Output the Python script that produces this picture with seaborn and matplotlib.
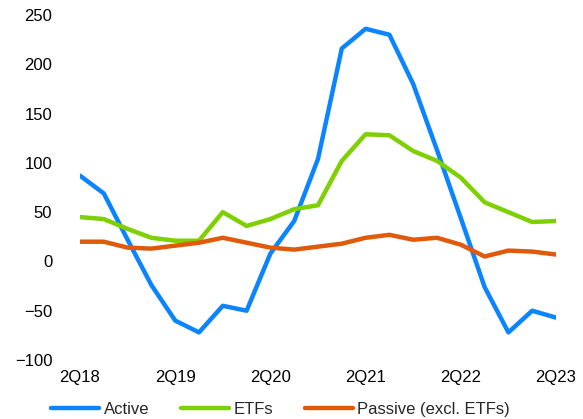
# fund flows by strategy - line chart

import matplotlib
matplotlib.use("Agg")
import matplotlib.pyplot as plt
import seaborn as sns
import pandas as pd

quarters = ["2Q18", "3Q18", "4Q18", "1Q19", "2Q19", "3Q19", "4Q19", "1Q20", "2Q20", "3Q20", "4Q20",
            "1Q21", "2Q21", "3Q21", "4Q21", "1Q22", "2Q22", "3Q22", "4Q22", "1Q23", "2Q23"]
active = [87, 69, 22, -24, -60, -72, -45, -50, 8, 41, 104, 216, 236, 230, 180, 113, 44, -26, -72, -50, -57]
etfs = [45, 43, 33, 24, 21, 21, 50, 36, 43, 53, 57, 102, 129, 128, 112, 102, 85, 60, 50, 40, 41]
passive = [20, 20, 14, 13, 16, 19, 24, 19, 14, 12, 15, 18, 24, 27, 22, 24, 17, 5, 11, 10, 7]

series_names = ["Active", "ETFs", "Passive (excl. ETFs)"]
colors = ["#0A84FF", "#7ED000", "#E05A0A"]
tick_labels = ["2Q18", "2Q19", "2Q20", "2Q21", "2Q22", "2Q23"]

df = pd.DataFrame({"quarter": quarters * 3,
                   "x": list(range(len(quarters))) * 3,
                   "value": active + etfs + passive,
                   "series": [s for s in series_names for _ in quarters]})

sns.set_style("white")
plt.rcParams['font.family'] = ['Liberation Sans', 'DejaVu Sans']

fig = plt.figure(figsize=(5.83, 4.19), dpi=100)
ax = fig.add_axes([80/583, 1 - 360/419, 476/583, 345/419])

sns.lineplot(data=df, x="x", y="value", hue="series", palette=colors, linewidth=3.2,
             ax=ax, legend=False, solid_capstyle="round")

ax.set_xlim(0, len(quarters) - 1)
ax.set_ylim(-100, 250)
ax.set_yticks(range(-100, 251, 50))
ax.set_xticks([quarters.index(t) for t in tick_labels])
ax.set_xticklabels(tick_labels)
ax.tick_params(axis="y", labelsize=12, pad=20, length=0, colors="black")
ax.tick_params(axis="x", labelsize=12, pad=7, length=0, colors="black")
ax.set_xlabel("")
ax.set_ylabel("")
sns.despine(ax=ax, left=True, bottom=True)

handles = [plt.Line2D([], [], color=c, lw=3.2) for c in colors]
fig.legend(handles, series_names, loc="center", bbox_to_anchor=(0.481, 0.022), ncol=3,
           frameon=False, fontsize=12, handlelength=2.9, handletextpad=0.25, columnspacing=1.9)

fig.savefig("out.png", dpi=100)
